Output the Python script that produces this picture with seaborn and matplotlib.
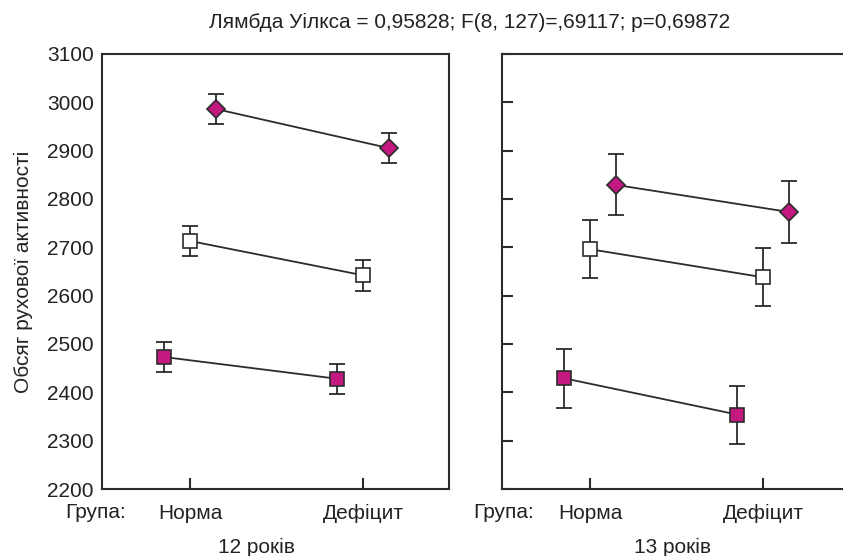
"""Line plot with error bars: motor activity by group and age"""
import numpy as np
import pandas as pd
import matplotlib
matplotlib.use("Agg")
import matplotlib.pyplot as plt
import seaborn as sns

# Data
groups = ["Норма", "Дефіцит"]
ages = ["12 років", "13 років"]
series = ["filled_square", "open_square", "diamond"]

# mean values per age, per series, per group
means_12 = {"filled_square": [2473, 2428],
            "open_square": [2713, 2642],
            "diamond": [2986, 2905]}
means_13 = {"filled_square": [2429, 2354],
            "open_square": [2696, 2638],
            "diamond": [2829, 2773]}
err_12 = {"filled_square": [31, 31],
          "open_square": [31, 32],
          "diamond": [31, 31]}
err_13 = {"filled_square": [61, 60],
          "open_square": [60, 60],
          "diamond": [63, 64]}

title = "Лямбда Уілкса = 0,95828; F(8, 127)=,69117; p=0,69872"
y_label = "Обсяг рухової активності"

# Styles
magenta = "#C2187F"
line_col = "#2b2b2b"
text_col = "#222222"
styles = {
    "filled_square": dict(marker="s", face=magenta, size=9.5, offset=-0.15),
    "open_square": dict(marker="s", face="white", size=9.5, offset=0.0),
    "diamond": dict(marker="D", face=magenta, size=9, offset=0.15),
}

sns.set_style("ticks")
plt.rcParams["font.family"] = ["Liberation Sans", "DejaVu Sans"]

fig = plt.figure(figsize=(8.43, 5.56), dpi=100)
ax_left = fig.add_axes([0.121, 0.1205, 0.412, 0.7825])
ax_right = fig.add_axes([0.5955, 0.1205, 0.4045, 0.7825])

for ax, means, errs in [(ax_left, means_12, err_12), (ax_right, means_13, err_13)]:
    for s in series:
        st = styles[s]
        x = np.arange(len(groups)) + st["offset"]
        df = pd.DataFrame({"x": x, "y": means[s]})
        ax.errorbar(df["x"], df["y"], yerr=errs[s], fmt="none",
                    ecolor=line_col, elinewidth=1.3, capsize=5.5, capthick=1.3,
                    zorder=2)
        sns.lineplot(data=df, x="x", y="y", ax=ax, color=line_col,
                     linewidth=1.3, marker=st["marker"], markersize=st["size"],
                     markerfacecolor=st["face"], markeredgecolor=line_col,
                     markeredgewidth=1.2, zorder=3)

    ax.set_ylim(2200, 3100)
    ax.set_xlim(-0.509, 1.497)
    ax.set_xticks(range(len(groups)))
    ax.set_xticklabels(groups, fontsize=15)
    ax.set_yticks(np.arange(2200, 3101, 100))
    ax.tick_params(axis="x", direction="in", length=8, width=1.5, pad=11,
                   colors=line_col, labelcolor=text_col)
    ax.set_xlabel("")
    ax.set_ylabel("")
    for sp in ax.spines.values():
        sp.set_linewidth(1.5)
        sp.set_color(line_col)

ax_left.tick_params(axis="y", length=0, labelsize=15, pad=6,
                    labelcolor=text_col)
ax_left.set_ylabel(y_label, fontsize=15, color=text_col, labelpad=10)

ax_right.set_xlim(-0.509, 1.462)
ax_right.set_yticklabels([])
ax_right.tick_params(axis="y", direction="in", length=8, width=1.5,
                     colors=line_col)
ax_right.spines["right"].set_visible(False)

# Labels below the panels
fig.text(65 / 843, 1 - 512 / 556, "Група:", fontsize=15, color=text_col,
         va="center")
fig.text(473 / 843, 1 - 512 / 556, "Група:", fontsize=15, color=text_col,
         va="center")
fig.text(256 / 843, 1 - 547 / 556, ages[0], fontsize=15, color=text_col,
         ha="center", va="center")
fig.text(672 / 843, 1 - 547 / 556, ages[1], fontsize=15, color=text_col,
         ha="center", va="center")
fig.text(470 / 843, 1 - 22 / 556, title, fontsize=15, color=text_col,
         ha="center", va="center")

fig.savefig("out.png", dpi=100)
